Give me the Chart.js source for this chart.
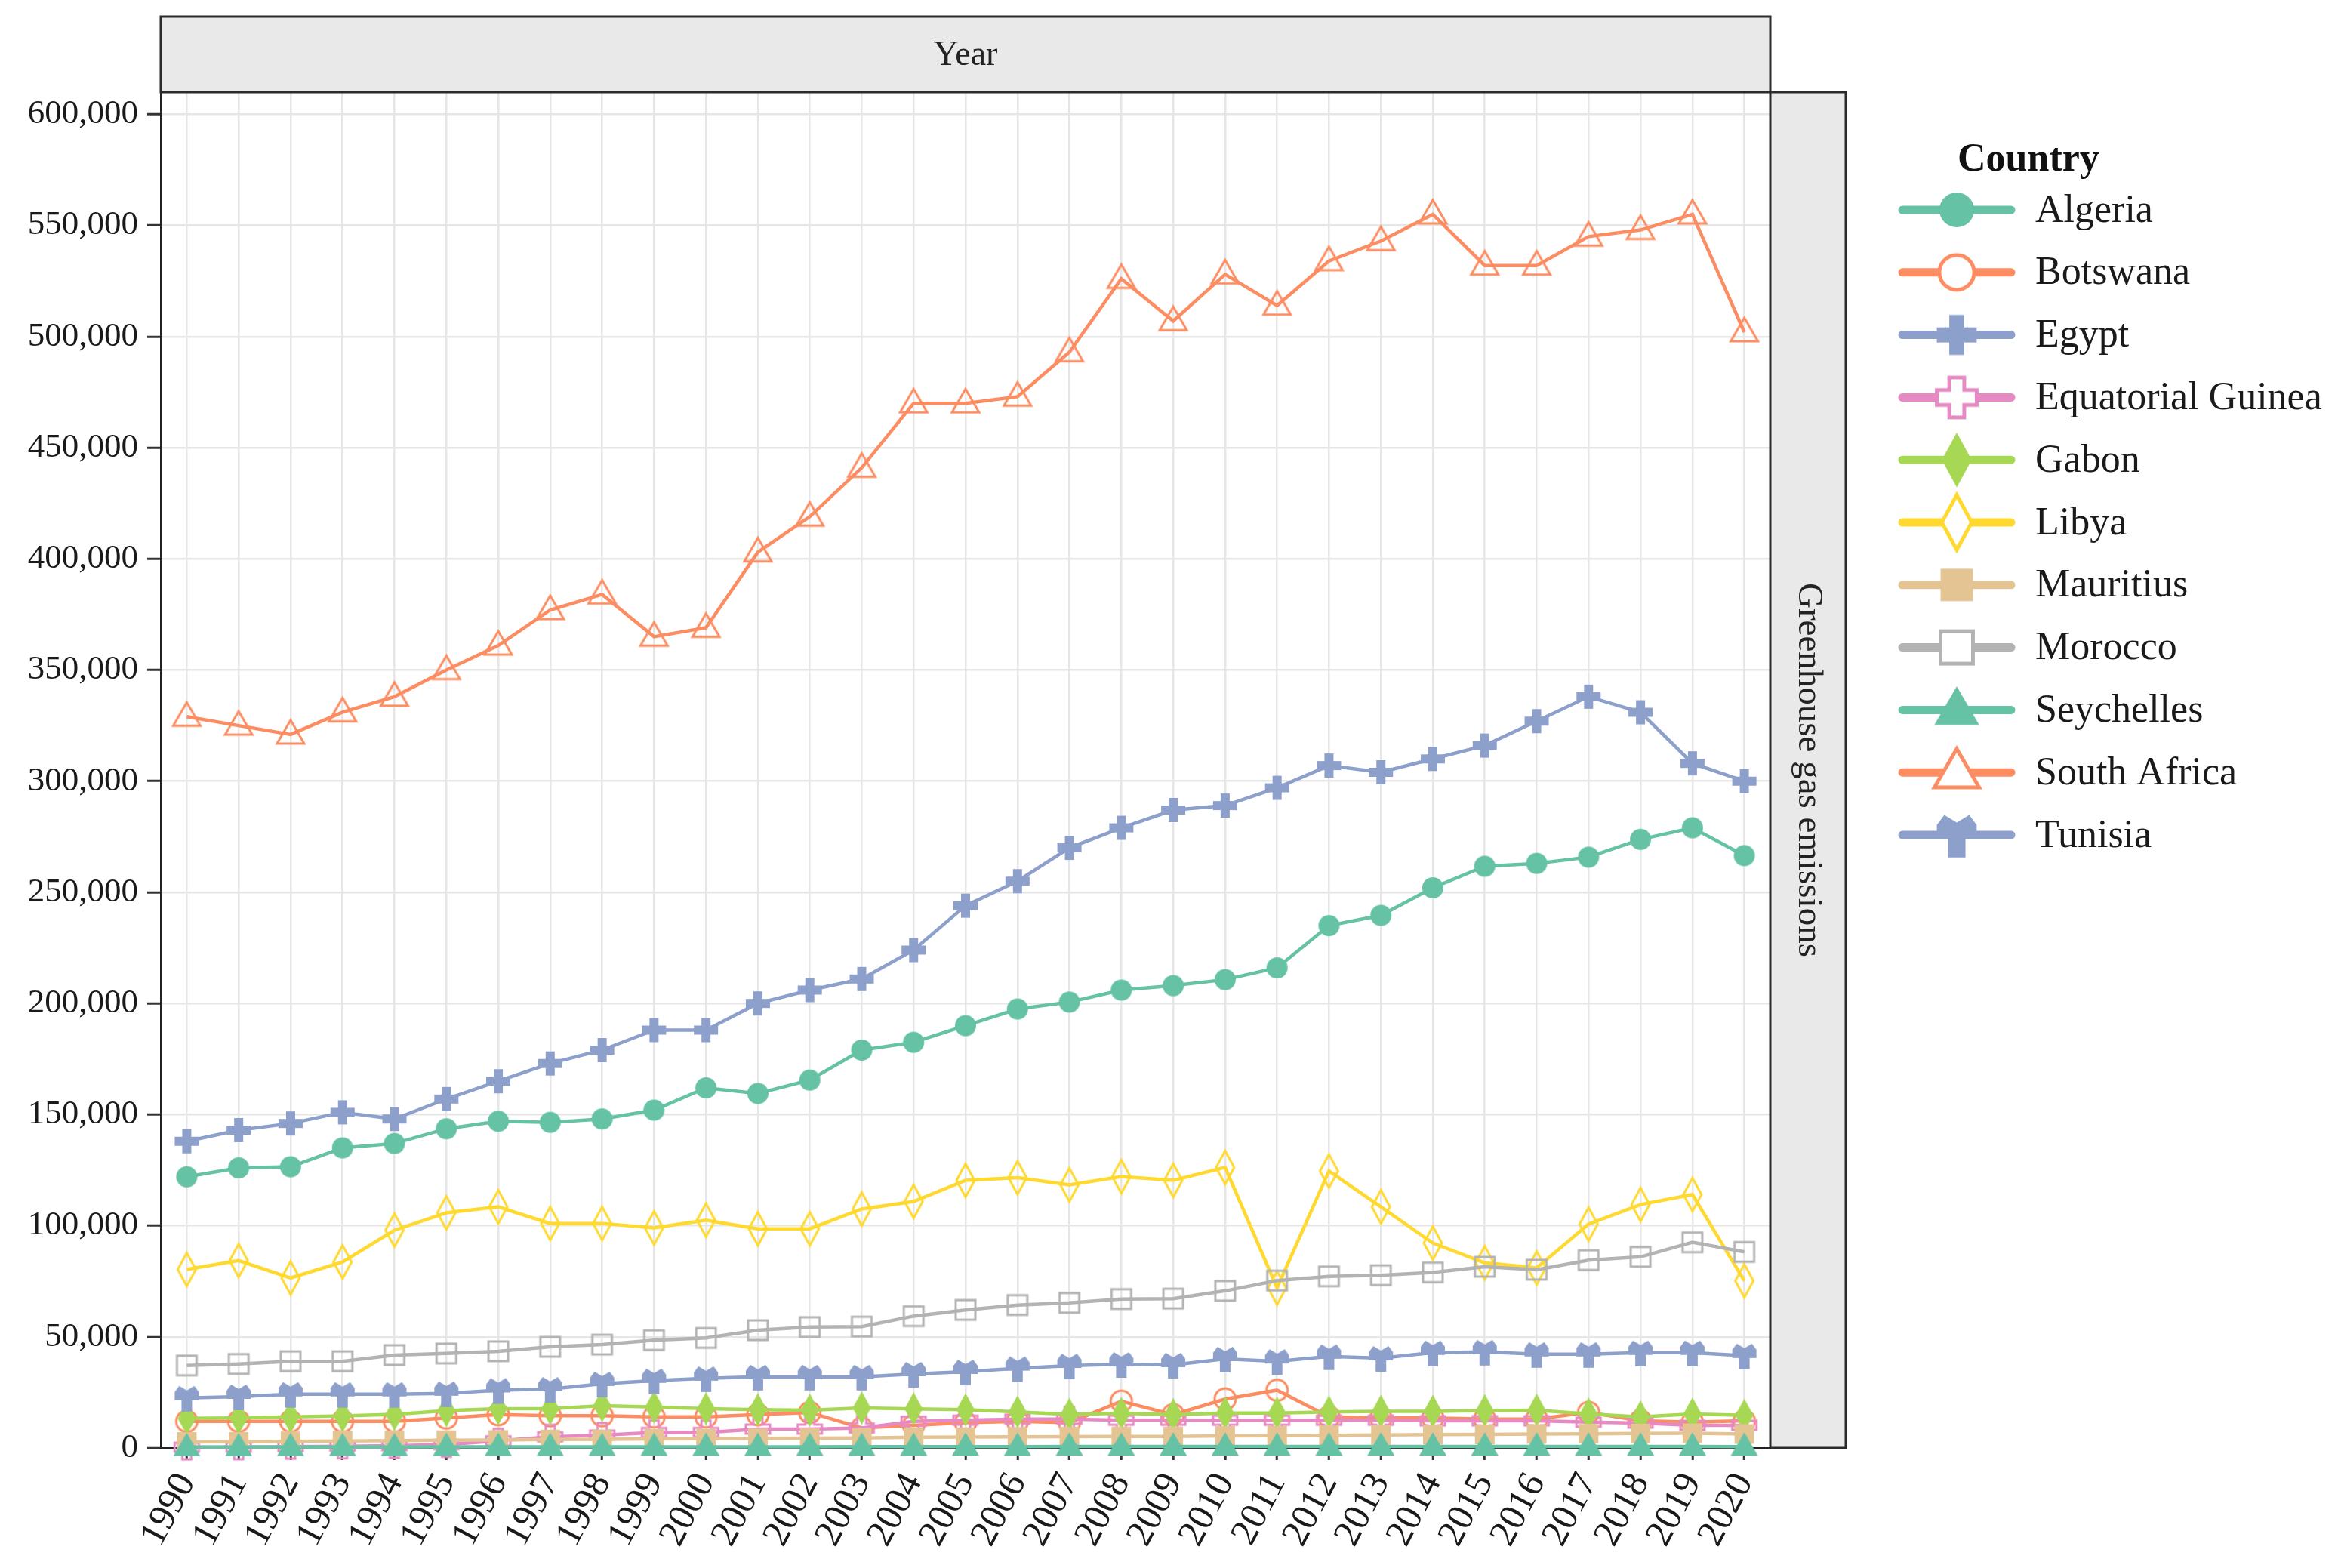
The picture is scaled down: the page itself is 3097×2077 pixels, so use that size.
<!DOCTYPE html>
<html>
<head>
<meta charset="utf-8">
<script src="https://cdn.jsdelivr.net/npm/chart.js@4.4.0/dist/chart.umd.min.js"></script>
<style>
  html, body { margin: 0; padding: 0; background: #fff; }
  canvas { display: block; }
</style>
</head>
<body>
<canvas id="myChart" width="3097" height="2077"></canvas>
<script>
// data
const years = ['1990', '1991', '1992', '1993', '1994', '1995', '1996', '1997', '1998', '1999', '2000',
    '2001', '2002', '2003', '2004', '2005', '2006', '2007', '2008', '2009', '2010',
    '2011', '2012', '2013', '2014', '2015', '2016', '2017', '2018', '2019', '2020'];

const countries = ['Algeria', 'Botswana', 'Egypt', 'Equatorial Guinea', 'Gabon', 'Libya',
    'Mauritius', 'Morocco', 'Seychelles', 'South Africa', 'Tunisia'];

const algeria = [122000, 126000, 126500, 135000, 137000, 143600, 147000, 146500, 148000, 152000, 162000,
    159500, 165500, 179000, 182500, 190000, 197500, 200600, 206000, 208000, 210700,
    216000, 235000, 239600, 252000, 261700, 263000, 265800, 273800, 279000, 266500];
const botswana = [12000, 12000, 12000, 12000, 12000, 13500, 15000, 14500, 14500, 14000, 14000,
    15000, 16000, 9000, 10200, 11400, 12000, 11400, 21000, 15000, 22000,
    26000, 14000, 13500, 13500, 13000, 13000, 16000, 12200, 11600, 12200];
const egypt = [138000, 143000, 146000, 151000, 148000, 157000, 165000, 173000, 179000, 188000, 188000,
    200000, 206000, 211000, 224000, 244000, 255000, 270000, 279000, 287000, 289000,
    297000, 307000, 304000, 310000, 316000, 327000, 338000, 331000, 308000, 300000];
const equatorialGuinea = [300, 400, 600, 800, 1000, 1500, 3200, 5000, 5800, 7000, 7000,
    8500, 8500, 9000, 12000, 12500, 13000, 13000, 12500, 12500, 12500,
    12500, 12500, 12500, 12200, 12200, 12200, 11600, 11200, 10200, 10200];
const gabon = [13300, 13500, 14000, 14400, 15100, 16800, 17700, 17700, 19000, 18400, 17700,
    17200, 17000, 18000, 17600, 17200, 16200, 15100, 15600, 15000, 15700,
    15700, 16200, 16500, 16500, 16800, 17000, 15300, 14000, 15300, 14700];
const libya = [80300, 84300, 76500, 83700, 98000, 105800, 108500, 101000, 101000, 99000, 102500,
    98600, 98600, 107500, 110900, 120400, 121600, 118400, 122100, 120400, 126200,
    72000, 124600, 108500, 92200, 83300, 81000, 100700, 109500, 114000, 75200];
const mauritius = [2700, 2800, 3000, 3100, 3300, 3500, 3600, 3800, 3900, 4100, 4200,
    4300, 4400, 4500, 4800, 4900, 5000, 5100, 5200, 5200, 5400,
    5500, 5700, 5900, 6000, 6100, 6300, 6400, 6500, 6600, 6300];
const morocco = [37100, 37800, 39000, 39000, 41800, 42500, 43500, 45500, 46500, 48500, 49500,
    53000, 54400, 54600, 59300, 62100, 64300, 65300, 67000, 67200, 70700,
    75300, 77200, 77700, 79000, 81500, 80200, 84500, 86000, 92500, 88200];
const seychelles = [400, 400, 450, 450, 450, 500, 500, 500, 500, 550, 550,
    550, 550, 600, 600, 600, 600, 650, 650, 650, 650,
    650, 650, 650, 650, 650, 650, 650, 650, 650, 600];
const southAfrica = [329000, 325000, 321000, 331000, 338000, 350000, 361000, 377000, 384000, 365000, 369000,
    403000, 419000, 441000, 470000, 470000, 473000, 493000, 526000, 507000, 528000,
    514000, 534000, 543000, 555000, 532000, 532000, 545000, 548000, 555000, 502000];
const tunisia = [22500, 23100, 24200, 24200, 24200, 24500, 26000, 26500, 28900, 30300, 31300,
    32000, 32000, 32000, 33300, 34300, 35800, 37000, 37700, 37400, 40100,
    39000, 41200, 40400, 42900, 43200, 42200, 42200, 42900, 42900, 41500];

const seriesValues = [algeria, botswana, egypt, equatorialGuinea, gabon, libya,
    mauritius, morocco, seychelles, southAfrica, tunisia];

const yTicks = [0, 50000, 100000, 150000, 200000, 250000, 300000, 350000, 400000, 450000, 500000, 550000, 600000];

// look of each series
const colors = ['#66c2a5', '#fc8d62', '#8da0cb', '#e78ac3', '#a6d854', '#ffd92f',
    '#e5c494', '#b3b3b3', '#66c2a5', '#fc8d62', '#8da0cb'];
const shapes = ['circle', 'circle-open', 'cross', 'cross-open', 'diamond', 'diamond-open',
    'square', 'square-open', 'triangle', 'triangle-open', 'tunisia'];

const SERIF = 'Liberation Serif';

function poly(g, pts) {
    g.moveTo(pts[0][0], pts[0][1]);
    for (let i = 1; i < pts.length; i++) g.lineTo(pts[i][0], pts[i][1]);
}

function shapePath(g, kind) {
    g.beginPath();
    if (kind === 'circle') g.arc(0, 0, 14, 0, Math.PI * 2);
    else if (kind === 'cross') poly(g, [[-6, -16], [6, -16], [6, -6], [16, -6], [16, 6], [6, 6], [6, 16], [-6, 16], [-6, 6], [-16, 6], [-16, -6], [-6, -6]]);
    else if (kind === 'diamond') poly(g, [[0, -22], [12, 0], [0, 22], [-12, 0]]);
    else if (kind === 'square') g.rect(-13, -13, 26, 26);
    else if (kind === 'triangle') poly(g, [[0, -19], [18, 12], [-18, 12]]);
    else if (kind === 'tunisia') poly(g, [[-16, -8], [-10, -16], [0, -10], [10, -16], [16, -8], [16, 3], [7, 3], [7, 18], [-7, 18], [-7, 3], [-16, 3]]);
    g.closePath();
}

// build a marker image for the given shape
function makeMarker(shape, color, scale, fillOpen) {
    const open = shape.endsWith('-open');
    const kind = shape.replace('-open', '');
    const size = Math.ceil(54 * scale);
    const c = document.createElement('canvas');
    c.width = size;
    c.height = size;
    const g = c.getContext('2d');
    g.translate(size / 2, size / 2);
    g.scale(scale, scale);
    shapePath(g, kind);
    if (open) {
        if (fillOpen) {
            g.fillStyle = '#fff';
            g.fill();
        }
        g.lineWidth = 3;
        g.strokeStyle = color;
        g.stroke();
    } else {
        g.fillStyle = color;
        g.fill();
    }
    return c;
}

const legendMarkers = shapes.map((s, i) => makeMarker(s, colors[i], 1.65, true));

// facet strips and the legend, drawn round the plot
const decor = {
    id: 'decor',
    beforeDraw(chart) {
        const ctx = chart.ctx;
        ctx.save();
        ctx.fillStyle = '#fff';
        ctx.fillRect(0, 0, chart.width, chart.height);
        ctx.restore();
    },
    afterDraw(chart) {
        const ctx = chart.ctx;
        const a = chart.chartArea;
        ctx.save();

        // top strip
        ctx.fillStyle = '#e9e9e9';
        ctx.fillRect(a.left, 22, a.right - a.left, a.top - 22);
        ctx.strokeStyle = '#2b2b2b';
        ctx.lineWidth = 3;
        ctx.strokeRect(a.left, 22, a.right - a.left, a.top - 22);
        ctx.fillStyle = '#222';
        ctx.font = '46px "' + SERIF + '"';
        ctx.textAlign = 'center';
        ctx.textBaseline = 'middle';
        ctx.fillText('Year', (a.left + a.right) / 2, (22 + a.top) / 2 + 2);

        // right strip
        ctx.fillStyle = '#e9e9e9';
        ctx.fillRect(a.right, a.top, 100, a.bottom - a.top);
        ctx.strokeRect(a.right, a.top, 100, a.bottom - a.top);
        ctx.translate(a.right + 50, (a.top + a.bottom) / 2);
        ctx.rotate(Math.PI / 2);
        ctx.fillStyle = '#222';
        ctx.font = '47px "' + SERIF + '"';
        ctx.fillText('Greenhouse gas emissions', 0, 0);
        ctx.setTransform(1, 0, 0, 1, 0, 0);

        // legend
        ctx.textAlign = 'left';
        ctx.fillStyle = '#111';
        ctx.font = 'bold 52px "' + SERIF + '"';
        ctx.fillText('Country', 2593, 213);
        ctx.font = '52px "' + SERIF + '"';
        countries.forEach((name, i) => {
            const y = 278 + i * 82.8;
            ctx.strokeStyle = colors[i];
            ctx.lineWidth = 11;
            ctx.lineCap = 'round';
            ctx.beginPath();
            ctx.moveTo(2520, y);
            ctx.lineTo(2664, y);
            ctx.stroke();
            const m = legendMarkers[i];
            ctx.drawImage(m, 2592 - m.width / 2, y - m.height / 2);
            ctx.fillStyle = '#1a1a1a';
            ctx.fillText(name, 2696, y + 2);
        });
        ctx.restore();
    }
};

const ctx = document.getElementById('myChart').getContext('2d');

const emissionsChart = new Chart(ctx, {
    type: 'line',
    data: {
        labels: years,
        datasets: countries.map((name, i) => ({
            label: name,
            data: seriesValues[i],
            borderColor: colors[i],
            backgroundColor: colors[i],
            borderWidth: 4.5,
            pointStyle: makeMarker(shapes[i], colors[i], 1, false),
            pointRadius: 15,
            tension: 0,
            fill: false,
            clip: false,
            order: countries.length - i
        }))
    },
    options: {
        responsive: false,
        animation: false,
        devicePixelRatio: 1,
        layout: { padding: { top: 122, right: 752, left: 0, bottom: 0 } },
        plugins: {
            legend: { display: false },
            tooltip: { enabled: false }
        },
        scales: {
            x: {
                offset: true,
                grid: { offset: false, color: '#e6e6e6', lineWidth: 2.5, tickColor: '#333', tickLength: 16, tickWidth: 3 },
                border: { color: '#222', width: 3 },
                ticks: {
                    autoSkip: false,
                    minRotation: 62,
                    maxRotation: 62,
                    padding: 8,
                    color: '#1a1a1a',
                    font: { family: SERIF, size: 50 }
                },
                afterFit: axis => { axis.height = 159; }
            },
            y: {
                min: 0,
                max: 610000,
                afterBuildTicks: axis => { axis.ticks = yTicks.map(v => ({ value: v })); },
                grid: { color: '#e6e6e6', lineWidth: 2.5, tickColor: '#333', tickLength: 18, tickWidth: 3 },
                border: { color: '#222', width: 3 },
                ticks: {
                    padding: 12,
                    color: '#1a1a1a',
                    font: { family: SERIF, size: 45 },
                    callback: v => v.toLocaleString('en-US')
                },
                afterFit: axis => { axis.width = 213; }
            }
        }
    },
    plugins: [decor]
});
</script>
</body>
</html>
